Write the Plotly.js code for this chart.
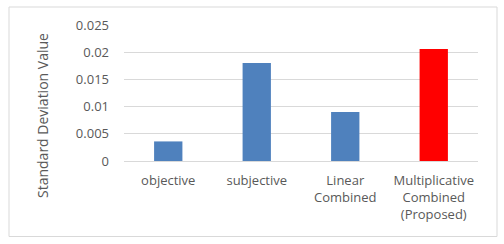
<!DOCTYPE html>
<html><head><meta charset="utf-8">
<script src="https://cdn.plot.ly/plotly-3.0.1.min.js"></script>
<style>html,body{margin:0;padding:0;background:#fff;}#chart{width:504px;height:244px;}</style>
</head><body><div id="chart"></div>
<script>
const categories = ['objective', 'subjective', 'Linear<br>Combined', 'Multiplicative<br>Combined<br>(Proposed)'];
const values = [0.0036, 0.018, 0.009, 0.0206];
const barColors = ['#4f81bd', '#4f81bd', '#4f81bd', '#ff0000'];
const yTicks = [0, 0.005, 0.01, 0.015, 0.02, 0.025];
const yTickLabels = ['0', '0.005', '0.01', '0.015', '0.02', '0.025'];
const yTitle = 'Standard Deviation Value';

const W = 504, H = 244, L = 124, R = 26, T = 25, B = 83;
const pw = W - L - R, ph = H - T - B;
const bx0 = (9 - L) / pw, bx1 = (497 - L) / pw;
const by1 = (H - B - 7) / ph, by0 = (H - B - 236.5) / ph;

Plotly.newPlot('chart', [{
  type: 'bar', x: categories, y: values,
  marker: {color: barColors, line: {width: 0}},
  hoverinfo: 'none'
}], {
  width: W, height: H,
  margin: {l: L, r: R, t: T, b: B, pad: 0},
  paper_bgcolor: 'rgba(0,0,0,0)', plot_bgcolor: 'rgba(0,0,0,0)',
  font: {family: 'Open Sans, sans-serif', size: 13, color: '#595959'},
  bargap: 0.68,
  showlegend: false,
  xaxis: {showgrid: false, showline: false, zeroline: false, ticks: '', tickfont: {size: 13, color: '#595959'}, ticklabelstandoff: 10, fixedrange: true},
  yaxis: {range: [0, 0.025], tickvals: yTicks, ticktext: yTickLabels, showgrid: true, gridcolor: '#d9d9d9', gridwidth: 1,
    zeroline: true, zerolinecolor: '#d9d9d9', zerolinewidth: 1, showline: false, ticks: '', ticklabelstandoff: 14,
    tickfont: {size: 13, color: '#595959'}, fixedrange: true},
  annotations: [{text: yTitle, xref: 'paper', yref: 'paper', x: (42 - L) / pw, y: (H - B - 116) / ph,
    xanchor: 'center', yanchor: 'middle', textangle: -90, showarrow: false, font: {size: 14, color: '#595959'}}],
  shapes: [{type: 'rect', xref: 'paper', yref: 'paper', x0: bx0, x1: bx1, y0: by0, y1: by1, line: {color: '#d9d9d9', width: 1}, layer: 'below'}]
}, {staticPlot: true, displayModeBar: false});
</script></body></html>
